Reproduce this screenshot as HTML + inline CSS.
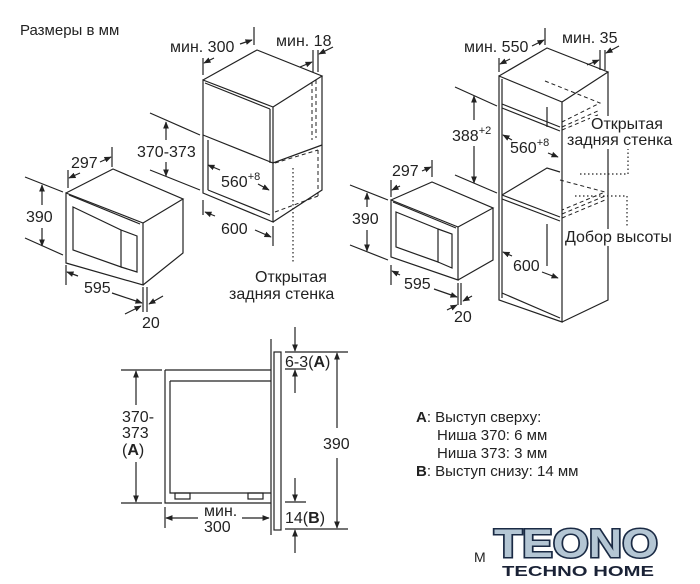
<!DOCTYPE html>
<html><head><meta charset="utf-8"><style>
html,body{margin:0;padding:0;background:#fff;}
svg{display:block;}
text{font-family:"Liberation Sans",Arial,sans-serif;fill:#222;}
</style></head><body>
<svg width="700" height="584" viewBox="0 0 700 584" xmlns="http://www.w3.org/2000/svg">
<defs>
<marker id="a" viewBox="0 0 10 10" refX="9" refY="5" markerWidth="6" markerHeight="6" orient="auto-start-reverse"><path d="M0,1 L10,5 L0,9 z" fill="#222"/></marker>
</defs>
<g stroke="#222" stroke-width="1.2" fill="none">
<path d="M66,193 L143,223 L143,285 L66,263 Z"/>
<path d="M66,193 L113,169 L183,199 L143,223"/>
<path d="M183,199 L183,253 L143,285"/>
<path d="M69,195 L140,224"/>
<path d="M73,207 L121,230 L121,267 L73,250 Z"/>
<path d="M121,230 L137,236 L137,272 L121,267"/>
<path d="M68,170 V188 M112,147 V167"/>
<path d="M80,173 L69,178" marker-end="url(#a)"/><path d="M100,162 L111,157" marker-end="url(#a)"/>
<path d="M25,177 L63,192 M25,238 L63,255"/>
<path d="M42,205 V185" marker-end="url(#a)"/><path d="M42,228 V246" marker-end="url(#a)"/>
<path d="M66,265 V285 M143,287 V312 M147,287 V312"/>
<path d="M78,276 L67,272" marker-end="url(#a)"/><path d="M112,293 L142,303" marker-end="url(#a)"/>
<path d="M125,314 L141,306" marker-end="url(#a)"/><path d="M163,296 L149,304" marker-end="url(#a)"/>
<path d="M203,80 L273,107 L273,222 L203,193 Z"/>
<path d="M203,80 L257,50 L322,76 L273,107"/>
<path d="M322,76 L322,190 L273,222"/>
<path d="M203,135 L273,163 L322,145"/>
<path d="M208,140 L208,190 M208,190 L270,215"/>
<path d="M205,83 L270,109"/>
<path d="M270,109 L270,163"/>
<path stroke-dasharray="4,3" stroke-width="1" d="M312,82 V140 M316,80 V138 M275,163 L318,150 M275,212 L318,196 M318,150 V196"/>
<path stroke-dasharray="1.5,2.5" d="M293,168 V262"/>
<path d="M203,58 V75 M254,27 V45"/>
<path d="M214,58 L204,63" marker-end="url(#a)"/><path d="M240,44 L252,40" marker-end="url(#a)"/>
<path d="M313,50 V72 M318,50 V72"/>
<path d="M300,67 L312,62" marker-end="url(#a)"/><path d="M333,47 L319,54" marker-end="url(#a)"/>
<path d="M150,113 L200,135 M150,170 L200,190"/>
<path d="M166,140 V122" marker-end="url(#a)"/><path d="M166,162 V176" marker-end="url(#a)"/>
<path d="M220,170 L208,165" marker-end="url(#a)"/><path d="M258,184 L269,190" marker-end="url(#a)"/>
<path d="M203,200 V215 M273,226 V246"/>
<path d="M215,216 L205,212" marker-end="url(#a)"/><path d="M255,230 L271,237" marker-end="url(#a)"/>
<path d="M391,200 L458,227 L458,280 L391,257 Z"/>
<path d="M391,200 L432,182 L493,208 L458,227"/>
<path d="M493,208 L493,260 L458,280"/>
<path d="M393,202 L456,228"/>
<path d="M396,212 L438,229 L438,262 L396,247 Z"/>
<path d="M438,229 L452,234 L452,268 L438,262"/>
<path d="M391,180 V197 M432,160 V177"/>
<path d="M400,186 L392,190" marker-end="url(#a)"/><path d="M422,171 L431,167" marker-end="url(#a)"/>
<path d="M350,185 L388,200 M350,245 L388,260"/>
<path d="M367,207 V193" marker-end="url(#a)"/><path d="M367,230 V251" marker-end="url(#a)"/>
<path d="M391,265 V285 M458,283 V305 M461,283 V305"/>
<path d="M400,275 L392,271" marker-end="url(#a)"/><path d="M434,289 L457,297" marker-end="url(#a)"/>
<path d="M447,310 L457,305" marker-end="url(#a)"/><path d="M472,296 L463,301" marker-end="url(#a)"/>
<path d="M499,76 L562,102 L562,322 L499,300 Z"/>
<path d="M499,76 L547,48 L608,72 L562,102"/>
<path d="M608,72 L608,300 L562,322"/>
<path d="M502,79 V298"/>
<path d="M502,104 L560,127 M502,108 L560,131"/>
<path d="M502,195 L560,217 M502,199 L560,221 M502,195 L547,168 L560,172"/>
<path d="M502,293 L560,318"/>
<path d="M547,107 L547,127 M547,224 V266"/>
<path stroke-dasharray="4,3" stroke-width="1" d="M545,81 L600,103 L562,122 M562,127 L600,110 M562,130 L600,114 M560,180 L605,192 L562,210 M562,214 L605,196 M562,218 L605,200"/>
<path stroke-dasharray="1.5,2.5" d="M580,174 H628 V148 M575,196 H627 V226"/>
<path d="M499,58 V72 M545,28 V45"/>
<path d="M510,59 L500,64" marker-end="url(#a)"/><path d="M532,46 L544,40" marker-end="url(#a)"/>
<path d="M600,50 V70 M605,50 V70"/>
<path d="M587,65 L599,60" marker-end="url(#a)"/><path d="M619,46 L606,53" marker-end="url(#a)"/>
<path d="M455,87 L497,106 M455,175 L497,193"/>
<path d="M474,120 V96" marker-end="url(#a)"/><path d="M474,146 V183" marker-end="url(#a)"/>
<path d="M512,140 L503,135" marker-end="url(#a)"/><path d="M548,153 L558,157" marker-end="url(#a)"/>
<path d="M512,256 L503,252" marker-end="url(#a)"/><path d="M542,272 L558,278" marker-end="url(#a)"/>
<path d="M165,370 H271 M271,339 V535 M165,370 V503 H271"/>
<path d="M170,381 H271 M170,381 V493 H271"/>
<rect x="175" y="493" width="15" height="6"/><rect x="248" y="493" width="15" height="6"/>
<rect x="274" y="352" width="7" height="178"/>
<path d="M285,352 H348 M285,369 H306 M285,502 H306 M285,529 H348 M121,370 H162 M121,503 H162"/>
<path d="M295,327 V351" marker-end="url(#a)"/><path d="M295,393 V370" marker-end="url(#a)"/>
<path d="M295,478 V501" marker-end="url(#a)"/><path d="M295,553 V530" marker-end="url(#a)"/>
<path d="M337,428 V353" marker-end="url(#a)"/><path d="M337,458 V528" marker-end="url(#a)"/>
<path d="M136,405 V371" marker-end="url(#a)"/><path d="M136,462 V502" marker-end="url(#a)"/>
<path d="M165,507 V528"/>
<path d="M198,518 H166" marker-end="url(#a)"/><path d="M242,518 H269" marker-end="url(#a)"/>
</g>
<rect x="590" y="116" width="82" height="33" fill="#fff"/>
<rect x="563" y="229" width="110" height="17" fill="#fff"/>
<g font-size="16">
<text x="20" y="35" font-size="15">Размеры в мм</text>
<text x="170" y="52">мин. 300</text>
<text x="276" y="46">мин. 18</text>
<text x="137" y="157">370-373</text>
<text x="71" y="168">297</text>
<text x="26" y="222">390</text>
<text x="221" y="187">560<tspan font-size="11" dy="-7">+8</tspan></text>
<text x="221" y="234">600</text>
<text x="84" y="293">595</text>
<text x="142" y="328">20</text>
<text x="255" y="282">Открытая</text>
<text x="229" y="299">задняя стенка</text>
<text x="464" y="52">мин. 550</text>
<text x="562" y="43">мин. 35</text>
<text x="452" y="141">388<tspan font-size="11" dy="-7">+2</tspan></text>
<text x="510" y="153">560<tspan font-size="11" dy="-7">+8</tspan></text>
<text x="591" y="129">Открытая</text>
<text x="567" y="145">задняя стенка</text>
<text x="392" y="176">297</text>
<text x="352" y="224">390</text>
<text x="404" y="289">595</text>
<text x="454" y="322">20</text>
<text x="513" y="271">600</text>
<text x="565" y="242">Добор высоты</text>
<text x="285" y="367">6-3(<tspan font-weight="bold">A</tspan>)</text>
<text x="122" y="422">370-</text>
<text x="122" y="438">373</text>
<text x="122" y="455">(<tspan font-weight="bold">A</tspan>)</text>
<text x="323" y="449">390</text>
<text x="285" y="523">14(<tspan font-weight="bold">B</tspan>)</text>
<text x="204" y="516">мин.</text>
<text x="204" y="532">300</text>
<text x="416" y="422" font-size="15"><tspan font-weight="bold">A</tspan>: Выступ сверху:</text>
<text x="437" y="440" font-size="15">Ниша 370: 6 мм</text>
<text x="437" y="458" font-size="15">Ниша 373: 3 мм</text>
<text x="416" y="476" font-size="15"><tspan font-weight="bold">B</tspan>: Выступ снизу: 14 мм</text>
<text x="474" y="562" font-size="14">M</text>
<text x="494" y="557" font-size="40" font-weight="bold" style="fill:#b4c6d4;stroke:#1a2a44;stroke-width:3px;paint-order:stroke" textLength="164" lengthAdjust="spacingAndGlyphs">TEONO</text>
<text x="502" y="576" font-size="15" font-weight="bold" style="fill:#1a2236" textLength="152" lengthAdjust="spacingAndGlyphs">TECHNO HOME</text>
</g>
</svg>
</body></html>
